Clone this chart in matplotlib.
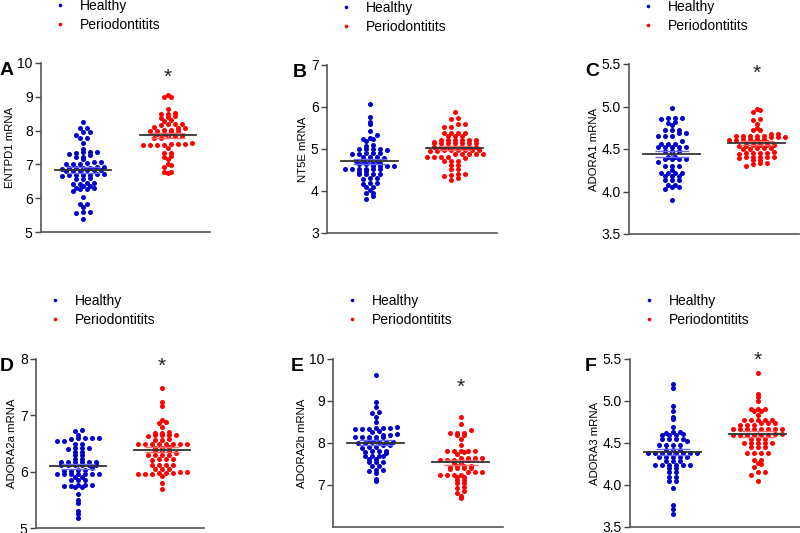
import numpy as np
import matplotlib.pyplot as plt
from matplotlib.lines import Line2D

plt.rcParams['font.family'] = ['Liberation Sans', 'DejaVu Sans']

groups = ["Healthy", "Periodontitits"]
genes = ["ENTPD1", "NT5E", "ADORA1", "ADORA2a", "ADORA2b", "ADORA3"]
letters = ["A", "B", "C", "D", "E", "F"]

# values (estimated)
entpd1_healthy = [8.24, 8.09, 8.08, 7.97, 7.96, 7.87, 7.79, 7.78, 7.62, 7.47,
                  7.37, 7.36, 7.36, 7.35, 7.32, 7.28, 7.22, 7.22, 7.15, 7.07, 7.06, 7.04,
                  7.02, 7.01, 7.00, 6.92, 6.91, 6.90, 6.90, 6.89, 6.88, 6.86, 6.84, 6.83,
                  6.82, 6.81, 6.80, 6.79, 6.72, 6.71, 6.70, 6.70, 6.69, 6.68, 6.67, 6.60,
                  6.58, 6.57, 6.45, 6.44, 6.43, 6.42, 6.37, 6.35, 6.30, 6.29, 6.28, 6.27,
                  6.22, 6.05, 5.84, 5.82, 5.73, 5.59, 5.58, 5.55, 5.38]
entpd1_perio = [9.04, 8.98, 8.98, 8.65, 8.52, 8.49, 8.49, 8.42, 8.40, 8.38, 8.30, 8.28,
                8.20, 8.20, 8.19, 8.17, 8.10, 8.09, 8.08, 8.02, 8.01, 8.00, 7.99, 7.98,
                7.97, 7.90, 7.89, 7.85, 7.85, 7.84, 7.78, 7.77, 7.62, 7.61, 7.60, 7.59,
                7.58, 7.58, 7.57, 7.56, 7.48, 7.35, 7.35, 7.24, 7.22, 7.15, 7.00, 6.97,
                6.93, 6.77, 6.77, 6.74]

nt5e_healthy = [6.07, 5.76, 5.64, 5.60, 5.43, 5.33, 5.25, 5.24, 5.26, 5.20, 5.10, 5.08,
                5.00, 4.99, 5.01, 5.00, 4.97, 4.90, 4.90, 4.89, 4.90, 4.89, 4.82, 4.80,
                4.80, 4.78, 4.72, 4.72, 4.71, 4.72, 4.65, 4.65, 4.66, 4.65, 4.60, 4.60,
                4.59, 4.59, 4.53, 4.53, 4.52, 4.53, 4.52, 4.53, 4.47, 4.46, 4.40, 4.40,
                4.40, 4.40, 4.30, 4.30, 4.28, 4.18, 4.19, 4.17, 4.10, 4.10, 4.03, 3.95,
                3.95, 3.88, 3.80]
nt5e_perio = [5.87, 5.75, 5.72, 5.60, 5.60, 5.52, 5.52, 5.38, 5.38, 5.37, 5.38, 5.30,
              5.30, 5.31, 5.22, 5.22, 5.21, 5.22, 5.21, 5.22, 5.15, 5.15, 5.14, 5.15,
              5.16, 5.15, 5.14, 5.15, 5.05, 5.05, 5.04, 5.05, 5.05, 5.04, 5.05, 4.97,
              4.97, 4.96, 4.97, 4.97, 4.96, 4.97, 4.97, 4.88, 4.88, 4.87, 4.88, 4.88,
              4.80, 4.80, 4.79, 4.80, 4.80, 4.72, 4.72, 4.71, 4.63, 4.63, 4.52, 4.52,
              4.40, 4.36, 4.37, 4.40, 4.30, 4.27]

adora1_healthy = [4.98, 4.86, 4.86, 4.86, 4.85, 4.82, 4.81, 4.78, 4.72, 4.72, 4.72,
                  4.69, 4.69, 4.65, 4.65, 4.65, 4.60, 4.56, 4.56, 4.56, 4.52, 4.52, 4.52,
                  4.52, 4.52, 4.48, 4.48, 4.48, 4.45, 4.40, 4.40, 4.38, 4.38, 4.38, 4.38,
                  4.35, 4.30, 4.30, 4.30, 4.25, 4.22, 4.22, 4.22, 4.22, 4.18, 4.18, 4.18,
                  4.13, 4.13, 4.13, 4.08, 4.08, 4.05, 4.05, 4.03, 3.90]
adora1_perio = [4.97, 4.96, 4.93, 4.85, 4.84, 4.80, 4.75, 4.72, 4.72, 4.68, 4.68,
                4.65, 4.65, 4.65, 4.64, 4.65, 4.64, 4.65, 4.64, 4.62, 4.62, 4.61, 4.62,
                4.62, 4.61, 4.58, 4.58, 4.58, 4.57, 4.55, 4.55, 4.55, 4.54, 4.55, 4.54,
                4.51, 4.51, 4.50, 4.51, 4.50, 4.45, 4.45, 4.45, 4.46, 4.45, 4.44, 4.40,
                4.40, 4.40, 4.41, 4.40, 4.39, 4.37, 4.37, 4.33, 4.33, 4.30, 4.32]

adora2a_healthy = [6.74, 6.73, 6.65, 6.60, 6.60, 6.60, 6.59, 6.58, 6.55, 6.55, 6.50,
                   6.50, 6.42, 6.42, 6.41, 6.42, 6.35, 6.35, 6.30, 6.30, 6.22, 6.22,
                   6.17, 6.17, 6.17, 6.17, 6.17, 6.17, 6.12, 6.12, 6.12, 6.12, 6.12, 6.11,
                   6.06, 6.03, 6.03, 6.02, 6.02, 5.95, 5.95, 5.95, 5.95, 5.95, 5.95, 5.96,
                   5.90, 5.90, 5.85, 5.85, 5.85, 5.76, 5.75, 5.75, 5.76, 5.77, 5.72, 5.72,
                   5.60, 5.50, 5.45, 5.30, 5.25, 5.18]
adora2a_perio = [7.48, 7.23, 7.17, 6.92, 6.88, 6.87, 6.80, 6.70, 6.68, 6.68, 6.65,
                 6.65, 6.65, 6.64, 6.65, 6.58, 6.57, 6.56, 6.50, 6.50, 6.50, 6.50, 6.49,
                 6.50, 6.50, 6.50, 6.42, 6.42, 6.43, 6.37, 6.37, 6.36, 6.34, 6.30, 6.30,
                 6.30, 6.29, 6.22, 6.22, 6.22, 6.21, 6.12, 6.12, 6.12, 6.12, 6.05, 6.04,
                 6.05, 6.00, 6.00, 5.97, 5.96, 5.96, 5.97, 5.96, 5.97, 5.93, 5.80, 5.70]

adora2b_healthy = [9.62, 8.98, 8.85, 8.73, 8.72, 8.62, 8.50, 8.38, 8.35, 8.35, 8.35,
                   8.34, 8.33, 8.34, 8.28, 8.27, 8.20, 8.20, 8.21, 8.15, 8.15, 8.14, 8.15,
                   8.15, 8.07, 8.07, 8.02, 8.02, 8.01, 8.02, 8.02, 8.01, 7.95, 7.95, 7.90,
                   7.90, 7.89, 7.80, 7.80, 7.80, 7.79, 7.76, 7.70, 7.70, 7.70, 7.69, 7.62,
                   7.62, 7.55, 7.55, 7.54, 7.45, 7.45, 7.35, 7.35, 7.34, 7.28, 7.15, 7.10]
adora2b_perio = [8.62, 8.45, 8.30, 8.25, 8.25, 8.24, 8.20, 8.20, 8.10, 7.95, 7.82,
                 7.82, 7.82, 7.81, 7.82, 7.78, 7.73, 7.65, 7.65, 7.65, 7.64, 7.60, 7.60,
                 7.60, 7.59, 7.52, 7.52, 7.45, 7.45, 7.45, 7.44, 7.40, 7.40, 7.40, 7.39,
                 7.30, 7.30, 7.30, 7.25, 7.25, 7.25, 7.24, 7.18, 7.18, 7.12, 7.12, 7.05,
                 7.05, 6.95, 6.93, 6.85, 6.80, 6.75, 6.68]

adora3_healthy = [5.20, 5.15, 4.94, 4.88, 4.81, 4.78, 4.69, 4.63, 4.63, 4.62, 4.60,
                  4.60, 4.60, 4.61, 4.55, 4.55, 4.55, 4.55, 4.52, 4.48, 4.48, 4.48, 4.48,
                  4.42, 4.42, 4.42, 4.38, 4.38, 4.38, 4.38, 4.38, 4.38, 4.38, 4.38, 4.33,
                  4.33, 4.33, 4.33, 4.33, 4.28, 4.28, 4.28, 4.24, 4.24, 4.24, 4.24, 4.24,
                  4.24, 4.20, 4.20, 4.15, 4.15, 4.10, 4.09, 4.05, 4.05, 3.97, 3.76, 3.72,
                  3.65]
adora3_perio = [5.33, 5.08, 5.05, 5.00, 4.90, 4.90, 4.90, 4.88, 4.88, 4.83, 4.77,
                4.77, 4.77, 4.77, 4.77, 4.74, 4.74, 4.74, 4.71, 4.71, 4.71, 4.67, 4.67,
                4.67, 4.67, 4.67, 4.67, 4.67, 4.67, 4.61, 4.61, 4.60, 4.60, 4.60, 4.60,
                4.60, 4.60, 4.55, 4.55, 4.55, 4.50, 4.50, 4.50, 4.50, 4.50, 4.45, 4.45,
                4.45, 4.38, 4.38, 4.38, 4.38, 4.30, 4.30, 4.26, 4.25, 4.22, 4.15, 4.15,
                4.12, 4.05]

healthy_sets = [entpd1_healthy, nt5e_healthy, adora1_healthy,
                adora2a_healthy, adora2b_healthy, adora3_healthy]
perio_sets = [entpd1_perio, nt5e_perio, adora1_perio,
              adora2a_perio, adora2b_perio, adora3_perio]

y_limits = [(5, 10), (3, 7), (3.5, 5.5), (5, 8), (6, 10), (3.5, 5.5)]
y_ticks = [[5, 6, 7, 8, 9, 10], [3, 4, 5, 6, 7], [3.5, 4.0, 4.5, 5.0, 5.5],
           [5, 6, 7, 8], [7, 8, 9, 10], [3.5, 4.0, 4.5, 5.0, 5.5]]
tick_fmt = ["{:.0f}", "{:.0f}", "{:.1f}", "{:.0f}", "{:.0f}", "{:.1f}"]
# which group carries the asterisk and at what height
star_group = [1, None, 1, 1, 1, 1]
star_y = [9.58, None, 5.39, 7.87, 9.33, 5.48]

colors = ["#0000cc", "#ff0000"]
sem_colors = ["#6a6aff", "#ff6a6a"]

# axes boxes in pixels: left, top, width, height  (figure 800 x 533)
boxes = [(41, 63, 169, 169), (327, 65, 170, 168), (629, 64, 170, 170),
         (36, 359, 168, 169), (333, 359, 170, 168), (630, 359, 170, 168)]
letter_x = [0, 293, 585, 0, 291, 585]
W, H = 800, 533

fig = plt.figure(figsize=(8, 5.33), dpi=100)


def swarm_offsets(vals, px_per_unit, bin_px=3.8, step_px=7.0):
    # GraphPad style: bin values in rows, spread each row symmetrically
    vals = np.asarray(vals)
    bins = np.floor(vals * px_per_unit / bin_px).astype(int)
    off = np.zeros(len(vals))
    for b in np.unique(bins):
        idx = np.where(bins == b)[0]
        idx = idx[np.argsort(vals[idx])]
        n = len(idx)
        off[idx] = (np.arange(n) - (n - 1) / 2) * step_px
    return off


for k in range(6):
    l, t, w, h = boxes[k]
    ax = fig.add_axes([l / W, 1 - (t + h) / H, w / W, h / H])
    lo, hi = y_limits[k]
    ax.set_ylim(lo, hi)
    ax.set_xlim(-0.5, 1.5)
    py = h / (hi - lo)
    px = w / 2.0
    for g, vals in enumerate([healthy_sets[k], perio_sets[k]]):
        vals = np.asarray(vals)
        xo = g + swarm_offsets(vals, py) / px
        ax.scatter(xo, vals, s=13, color=colors[g], linewidths=0, zorder=2)
        m = vals.mean()
        sem = vals.std(ddof=1) / np.sqrt(len(vals))
        ax.errorbar(g, m, yerr=sem, color=sem_colors[g], capsize=12,
                    elinewidth=1, capthick=1, zorder=3)
        ax.plot([g - 0.33, g + 0.33], [m, m], color="#333333", lw=1.3, zorder=4)
    if star_group[k] is not None:
        ax.text(star_group[k], star_y[k], "*", ha="center", va="center",
                fontsize=15, color="#222222")

    ax.set_yticks(y_ticks[k])
    ax.set_yticklabels([tick_fmt[k].format(v) for v in y_ticks[k]])
    ax.set_xticks([])
    ax.set_ylabel(genes[k] + " mRNA", fontsize=8.2, labelpad=2)
    ax.tick_params(axis="y", labelsize=10, length=4, width=1, color="#444444",
                   pad=2)
    for s in ["top", "right"]:
        ax.spines[s].set_visible(False)
    for s in ["left", "bottom"]:
        ax.spines[s].set_color("#555555")
        ax.spines[s].set_linewidth(1.2)

    handles = [Line2D([], [], ls="", marker="o", ms=2.6, mec="none", color=c)
               for c in colors]
    ax.legend(handles, groups, loc="center left", frameon=False, fontsize=10,
              bbox_to_anchor=(12 / w, 1 + 47.5 / h if k < 3 else 1 + 48.5 / h),
              borderpad=0, borderaxespad=0, handlelength=1.0,
              handletextpad=0.9, labelspacing=0.35)

    fig.text(letter_x[k] / W, 1 - (t - 1) / H, letters[k], fontsize=14,
             fontweight="bold", ha="left", va="top")

fig.savefig("out.png", dpi=100)
